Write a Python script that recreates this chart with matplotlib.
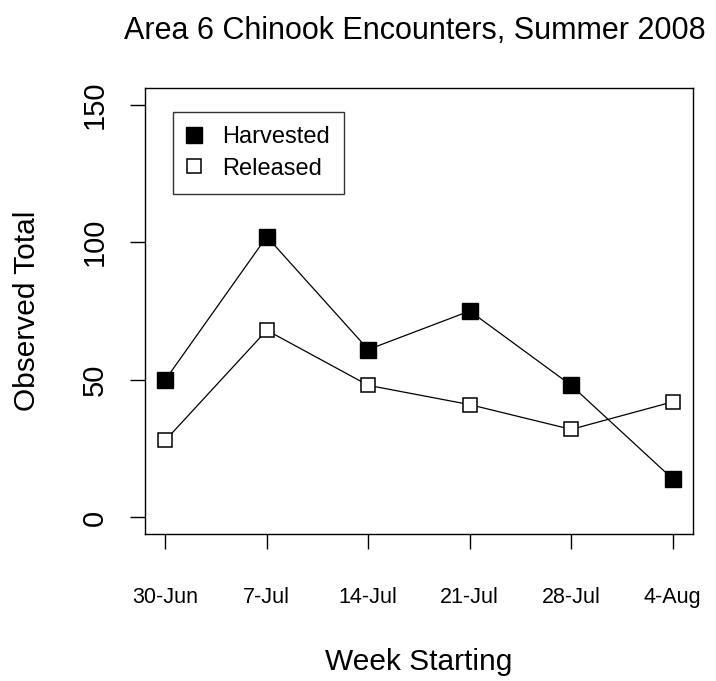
import matplotlib
matplotlib.use("Agg")
from matplotlib import pyplot as plt
import numpy as np

plt.rcParams['font.family'] = ['Liberation Sans', 'DejaVu Sans']

weeks = ["30-Jun", "7-Jul", "14-Jul", "21-Jul", "28-Jul", "4-Aug"]
harvested = [50, 102, 61, 75, 48, 14]
released = [28, 68, 48, 41, 32, 42]
y_ticks = [0, 50, 100, 150]

fig = plt.figure(figsize=(7.16, 6.81), dpi=100)
ax = fig.add_axes([145 / 716, 147 / 681, 548 / 716, 446 / 681])

x = np.arange(len(weeks))
ax.plot(x, harvested, color='black', lw=0.9, marker='s', ms=12,
        mfc='black', mec='black', label='Harvested')
ax.plot(x, released, color='black', lw=0.9, marker='s', ms=10,
        mfc='white', mec='black', mew=1.1, label='Released')

ax.set_xlim(-0.2, 5.2)
ax.set_ylim(-6, 156)
ax.set_xticks(x)
ax.set_xticklabels(weeks, fontsize=15.5)
ax.set_yticks(y_ticks)
ax.set_yticklabels([str(v) for v in y_ticks], fontsize=21, rotation=90, va='center')
ax.tick_params(axis='x', length=11, width=1, pad=27)
ax.tick_params(axis='y', length=11, width=1, pad=15)
for s in ax.spines.values():
    s.set_linewidth(1)

ax.set_xlabel("Week Starting", fontsize=21.5, labelpad=29)
ax.set_ylabel("Observed Total", fontsize=21.5, labelpad=29)
fig.text(415 / 716, 1 - 31 / 681, "Area 6 Chinook Encounters, Summer 2008",
         fontsize=22, ha='center', va='center')

leg = ax.legend(loc='upper left', bbox_to_anchor=(0.051, 0.946), fontsize=17,
                frameon=True, fancybox=False, edgecolor='black',
                handlelength=0.6, handletextpad=0.9, borderpad=0.6,
                labelspacing=0.4, borderaxespad=0)
leg.get_frame().set_linewidth(1)
for line in leg.get_lines():
    line.set_linestyle('')

fig.savefig("out.png", dpi=100)
